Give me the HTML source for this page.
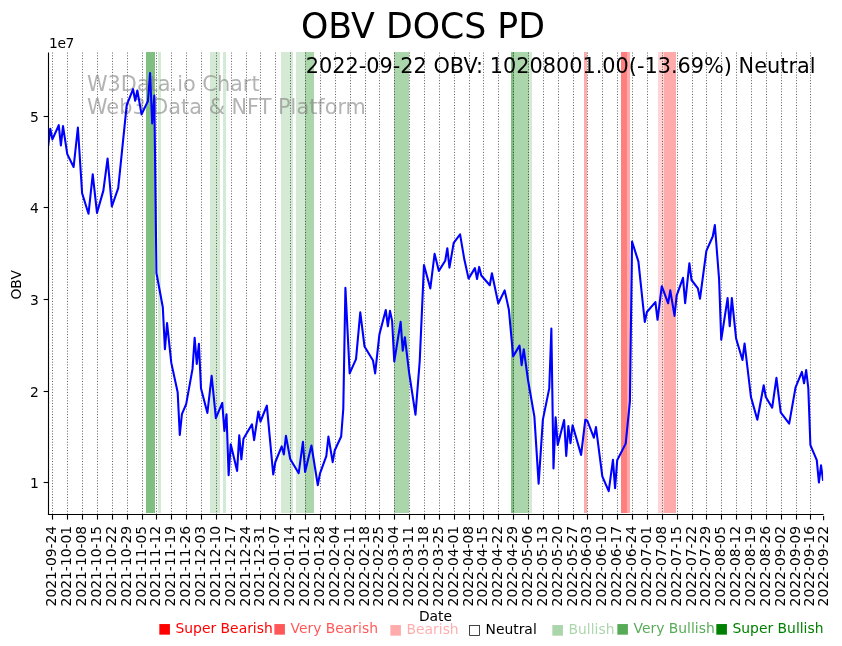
<!DOCTYPE html>
<html><head><meta charset="utf-8"><title>OBV DOCS PD</title>
<style>html,body{margin:0;padding:0;background:#fff}svg{display:block}text{font-family:"DejaVu Sans","Liberation Sans",sans-serif;}</style></head><body>
<svg width="842" height="646" viewBox="0 0 842 646">
<rect width="842" height="646" fill="#fff"/>
<g shape-rendering="crispEdges">
<rect x="146" y="52" width="9" height="461" fill="#008000" fill-opacity="0.5"/>
<rect x="158" y="52" width="3" height="461" fill="#008000" fill-opacity="0.165"/>
<rect x="210" y="52" width="10" height="461" fill="#008000" fill-opacity="0.165"/>
<rect x="223" y="52" width="3" height="461" fill="#008000" fill-opacity="0.165"/>
<rect x="281" y="52" width="12" height="461" fill="#008000" fill-opacity="0.165"/>
<rect x="296" y="52" width="9" height="461" fill="#008000" fill-opacity="0.165"/>
<rect x="305" y="52" width="9" height="461" fill="#008000" fill-opacity="0.33"/>
<rect x="394" y="52" width="15" height="461" fill="#008000" fill-opacity="0.33"/>
<rect x="511" y="52" width="3" height="461" fill="#008000" fill-opacity="0.5"/>
<rect x="514" y="52" width="15" height="461" fill="#008000" fill-opacity="0.33"/>
<rect x="529" y="52" width="3" height="461" fill="#008000" fill-opacity="0.165"/>
<rect x="584" y="52" width="3" height="461" fill="#ff0000" fill-opacity="0.33"/>
<rect x="621" y="52" width="6" height="461" fill="#ff0000" fill-opacity="0.5"/>
<rect x="627" y="52" width="3" height="461" fill="#ff0000" fill-opacity="0.33"/>
<rect x="658" y="52" width="6" height="461" fill="#ff0000" fill-opacity="0.165"/>
<rect x="664" y="52" width="12" height="461" fill="#ff0000" fill-opacity="0.33"/>
</g>
<g stroke="#000" stroke-opacity="0.63" stroke-width="1" stroke-dasharray="1 1.76" fill="none">
<path d="M52.5 514.5V52.5"/>
<path d="M67.5 514.5V52.5"/>
<path d="M82.5 514.5V52.5"/>
<path d="M97.5 514.5V52.5"/>
<path d="M112.5 514.5V52.5"/>
<path d="M127.5 514.5V52.5"/>
<path d="M142.5 514.5V52.5"/>
<path d="M156.5 514.5V52.5"/>
<path d="M171.5 514.5V52.5"/>
<path d="M186.5 514.5V52.5"/>
<path d="M201.5 514.5V52.5"/>
<path d="M216.5 514.5V52.5"/>
<path d="M231.5 514.5V52.5"/>
<path d="M246.5 514.5V52.5"/>
<path d="M260.5 514.5V52.5"/>
<path d="M275.5 514.5V52.5"/>
<path d="M290.5 514.5V52.5"/>
<path d="M305.5 514.5V52.5"/>
<path d="M320.5 514.5V52.5"/>
<path d="M335.5 514.5V52.5"/>
<path d="M350.5 514.5V52.5"/>
<path d="M365.5 514.5V52.5"/>
<path d="M379.5 514.5V52.5"/>
<path d="M394.5 514.5V52.5"/>
<path d="M409.5 514.5V52.5"/>
<path d="M424.5 514.5V52.5"/>
<path d="M439.5 514.5V52.5"/>
<path d="M454.5 514.5V52.5"/>
<path d="M469.5 514.5V52.5"/>
<path d="M483.5 514.5V52.5"/>
<path d="M498.5 514.5V52.5"/>
<path d="M513.5 514.5V52.5"/>
<path d="M528.5 514.5V52.5"/>
<path d="M543.5 514.5V52.5"/>
<path d="M558.5 514.5V52.5"/>
<path d="M573.5 514.5V52.5"/>
<path d="M587.5 514.5V52.5"/>
<path d="M602.5 514.5V52.5"/>
<path d="M617.5 514.5V52.5"/>
<path d="M632.5 514.5V52.5"/>
<path d="M647.5 514.5V52.5"/>
<path d="M662.5 514.5V52.5"/>
<path d="M677.5 514.5V52.5"/>
<path d="M692.5 514.5V52.5"/>
<path d="M706.5 514.5V52.5"/>
<path d="M721.5 514.5V52.5"/>
<path d="M736.5 514.5V52.5"/>
<path d="M751.5 514.5V52.5"/>
<path d="M766.5 514.5V52.5"/>
<path d="M781.5 514.5V52.5"/>
<path d="M796.5 514.5V52.5"/>
<path d="M810.5 514.5V52.5"/>
</g>
<g font-size="20.83" fill="#808080" fill-opacity="0.6"><text x="87" y="91">W3Data.io Chart</text><text x="87" y="114.3">Web3 Data &amp; NFT Platform</text></g>
<clipPath id="ax"><rect x="48.15" y="52.0" width="775.0" height="462.5"/></clipPath>
<path clip-path="url(#ax)" d="M48.15 146.00 L50.27 128.70 L52.40 139.40 L58.77 125.20 L60.89 145.50 L63.01 126.10 L67.26 154.10 L73.63 167.00 L77.88 127.50 L82.12 193.20 L88.49 213.80 L92.74 174.30 L96.99 212.90 L103.36 190.60 L107.60 158.50 L111.85 206.50 L118.22 188.20 L126.71 105.10 L133.08 89.20 L135.20 100.80 L137.33 90.50 L141.57 114.40 L147.94 101.00 L150.07 73.00 L152.19 123.50 L154.31 95.50 L156.44 273.00 L162.81 307.30 L164.93 349.20 L167.05 323.10 L171.30 362.90 L177.67 392.20 L179.79 434.90 L181.92 414.20 L186.16 404.10 L192.53 368.90 L194.66 337.90 L196.78 363.90 L198.90 343.90 L201.03 388.60 L207.40 413.00 L211.64 375.90 L215.89 418.20 L222.26 402.90 L224.38 430.90 L226.51 414.40 L228.63 475.10 L230.75 444.30 L237.12 470.90 L239.25 435.40 L241.37 459.30 L243.49 438.70 L251.99 424.30 L254.11 440.20 L258.36 411.50 L260.48 421.50 L266.85 405.60 L273.22 474.50 L275.34 462.00 L281.71 446.40 L283.84 454.50 L285.96 435.90 L290.21 459.00 L298.70 473.20 L302.94 441.80 L305.07 472.00 L311.44 445.50 L317.81 485.10 L319.93 473.60 L326.30 456.10 L328.42 436.60 L332.67 462.10 L334.79 450.20 L341.16 436.50 L343.29 408.80 L345.41 287.70 L349.66 373.40 L356.03 359.10 L360.27 312.40 L364.52 346.50 L373.01 360.50 L375.14 373.40 L379.38 334.60 L385.75 310.00 L387.88 326.30 L390.00 310.90 L392.12 320.90 L394.25 361.50 L400.62 321.90 L402.74 350.70 L404.86 337.20 L409.11 372.70 L415.48 414.60 L419.73 361.00 L423.97 265.10 L430.34 288.40 L434.59 253.80 L438.84 270.90 L445.21 260.80 L447.33 248.20 L449.45 267.60 L453.70 242.90 L460.07 234.40 L464.31 259.30 L468.56 278.60 L474.93 268.10 L477.05 279.00 L479.18 266.90 L481.30 275.50 L489.79 285.20 L491.92 273.30 L498.29 303.50 L504.66 290.40 L508.90 309.80 L513.15 356.40 L519.52 345.60 L521.64 365.10 L523.77 349.20 L528.01 380.00 L534.38 416.60 L538.63 483.60 L542.88 419.60 L549.25 388.40 L551.37 328.60 L553.49 468.50 L555.62 417.40 L557.74 445.00 L564.11 420.10 L566.23 456.00 L568.36 426.10 L570.48 443.20 L572.60 425.20 L581.10 454.90 L585.34 419.70 L587.47 421.00 L593.84 437.70 L595.96 427.10 L602.33 476.40 L608.70 491.20 L612.95 459.90 L615.07 488.10 L617.19 460.30 L625.68 443.60 L629.93 401.10 L632.05 241.50 L638.42 261.60 L644.79 322.00 L646.92 312.00 L655.41 302.10 L657.53 319.80 L661.78 286.20 L668.15 303.30 L670.27 290.40 L674.52 315.90 L676.64 295.60 L683.01 277.80 L685.14 303.20 L689.38 263.20 L691.51 280.00 L697.88 288.40 L700.00 298.70 L706.37 250.80 L712.74 236.50 L714.86 225.00 L719.11 279.50 L721.23 339.80 L727.60 298.10 L729.73 326.10 L731.85 298.10 L736.10 338.50 L742.47 360.00 L744.59 343.50 L750.96 397.00 L757.33 419.80 L763.70 385.30 L765.82 397.00 L772.19 407.70 L776.44 377.90 L780.69 412.30 L789.18 423.60 L795.55 387.40 L801.92 371.90 L804.04 383.30 L806.16 370.10 L808.29 388.00 L810.41 445.10 L816.78 460.20 L818.90 482.50 L821.03 465.30 L823.15 480.80" fill="none" stroke="#0000ff" stroke-width="2.08" stroke-linejoin="round" stroke-linecap="butt"/>
<g stroke="#000" stroke-width="1.11" fill="none"><path d="M48.5 515.05V52.5"/><path d="M47.95 514.5H823.65"/></g>
<g stroke="#000" stroke-width="1.11" fill="none">
<path d="M52.5 514.5v5.1"/>
<path d="M67.5 514.5v5.1"/>
<path d="M82.5 514.5v5.1"/>
<path d="M97.5 514.5v5.1"/>
<path d="M112.5 514.5v5.1"/>
<path d="M127.5 514.5v5.1"/>
<path d="M142.5 514.5v5.1"/>
<path d="M156.5 514.5v5.1"/>
<path d="M171.5 514.5v5.1"/>
<path d="M186.5 514.5v5.1"/>
<path d="M201.5 514.5v5.1"/>
<path d="M216.5 514.5v5.1"/>
<path d="M231.5 514.5v5.1"/>
<path d="M246.5 514.5v5.1"/>
<path d="M260.5 514.5v5.1"/>
<path d="M275.5 514.5v5.1"/>
<path d="M290.5 514.5v5.1"/>
<path d="M305.5 514.5v5.1"/>
<path d="M320.5 514.5v5.1"/>
<path d="M335.5 514.5v5.1"/>
<path d="M350.5 514.5v5.1"/>
<path d="M365.5 514.5v5.1"/>
<path d="M379.5 514.5v5.1"/>
<path d="M394.5 514.5v5.1"/>
<path d="M409.5 514.5v5.1"/>
<path d="M424.5 514.5v5.1"/>
<path d="M439.5 514.5v5.1"/>
<path d="M454.5 514.5v5.1"/>
<path d="M469.5 514.5v5.1"/>
<path d="M483.5 514.5v5.1"/>
<path d="M498.5 514.5v5.1"/>
<path d="M513.5 514.5v5.1"/>
<path d="M528.5 514.5v5.1"/>
<path d="M543.5 514.5v5.1"/>
<path d="M558.5 514.5v5.1"/>
<path d="M573.5 514.5v5.1"/>
<path d="M587.5 514.5v5.1"/>
<path d="M602.5 514.5v5.1"/>
<path d="M617.5 514.5v5.1"/>
<path d="M632.5 514.5v5.1"/>
<path d="M647.5 514.5v5.1"/>
<path d="M662.5 514.5v5.1"/>
<path d="M677.5 514.5v5.1"/>
<path d="M692.5 514.5v5.1"/>
<path d="M706.5 514.5v5.1"/>
<path d="M721.5 514.5v5.1"/>
<path d="M736.5 514.5v5.1"/>
<path d="M751.5 514.5v5.1"/>
<path d="M766.5 514.5v5.1"/>
<path d="M781.5 514.5v5.1"/>
<path d="M796.5 514.5v5.1"/>
<path d="M810.5 514.5v5.1"/>
<path d="M823.6 516.1V520.2"/>
<path d="M48.5 116.5h-4.86"/>
<path d="M48.5 207.5h-4.86"/>
<path d="M48.5 299.5h-4.86"/>
<path d="M48.5 391.5h-4.86"/>
<path d="M48.5 482.5h-4.86"/>
</g>
<g font-size="13.89" fill="#000">
<text x="38.8" y="121.8" text-anchor="end">5</text>
<text x="38.8" y="212.8" text-anchor="end">4</text>
<text x="38.8" y="304.8" text-anchor="end">3</text>
<text x="38.8" y="396.8" text-anchor="end">2</text>
<text x="38.8" y="487.8" text-anchor="end">1</text>
<text transform="translate(55.8 525.8) rotate(-90)" text-anchor="end">2021-09-24</text>
<text transform="translate(70.8 525.8) rotate(-90)" text-anchor="end">2021-10-01</text>
<text transform="translate(85.8 525.8) rotate(-90)" text-anchor="end">2021-10-08</text>
<text transform="translate(100.8 525.8) rotate(-90)" text-anchor="end">2021-10-15</text>
<text transform="translate(115.8 525.8) rotate(-90)" text-anchor="end">2021-10-22</text>
<text transform="translate(130.8 525.8) rotate(-90)" text-anchor="end">2021-10-29</text>
<text transform="translate(145.8 525.8) rotate(-90)" text-anchor="end">2021-11-05</text>
<text transform="translate(159.8 525.8) rotate(-90)" text-anchor="end">2021-11-12</text>
<text transform="translate(174.8 525.8) rotate(-90)" text-anchor="end">2021-11-19</text>
<text transform="translate(189.8 525.8) rotate(-90)" text-anchor="end">2021-11-26</text>
<text transform="translate(204.8 525.8) rotate(-90)" text-anchor="end">2021-12-03</text>
<text transform="translate(219.8 525.8) rotate(-90)" text-anchor="end">2021-12-10</text>
<text transform="translate(234.8 525.8) rotate(-90)" text-anchor="end">2021-12-17</text>
<text transform="translate(249.8 525.8) rotate(-90)" text-anchor="end">2021-12-24</text>
<text transform="translate(263.8 525.8) rotate(-90)" text-anchor="end">2021-12-31</text>
<text transform="translate(278.8 525.8) rotate(-90)" text-anchor="end">2022-01-07</text>
<text transform="translate(293.8 525.8) rotate(-90)" text-anchor="end">2022-01-14</text>
<text transform="translate(308.8 525.8) rotate(-90)" text-anchor="end">2022-01-21</text>
<text transform="translate(323.8 525.8) rotate(-90)" text-anchor="end">2022-01-28</text>
<text transform="translate(338.8 525.8) rotate(-90)" text-anchor="end">2022-02-04</text>
<text transform="translate(353.8 525.8) rotate(-90)" text-anchor="end">2022-02-11</text>
<text transform="translate(368.8 525.8) rotate(-90)" text-anchor="end">2022-02-18</text>
<text transform="translate(382.8 525.8) rotate(-90)" text-anchor="end">2022-02-25</text>
<text transform="translate(397.8 525.8) rotate(-90)" text-anchor="end">2022-03-04</text>
<text transform="translate(412.8 525.8) rotate(-90)" text-anchor="end">2022-03-11</text>
<text transform="translate(427.8 525.8) rotate(-90)" text-anchor="end">2022-03-18</text>
<text transform="translate(442.8 525.8) rotate(-90)" text-anchor="end">2022-03-25</text>
<text transform="translate(457.8 525.8) rotate(-90)" text-anchor="end">2022-04-01</text>
<text transform="translate(472.8 525.8) rotate(-90)" text-anchor="end">2022-04-08</text>
<text transform="translate(486.8 525.8) rotate(-90)" text-anchor="end">2022-04-15</text>
<text transform="translate(501.8 525.8) rotate(-90)" text-anchor="end">2022-04-22</text>
<text transform="translate(516.8 525.8) rotate(-90)" text-anchor="end">2022-04-29</text>
<text transform="translate(531.8 525.8) rotate(-90)" text-anchor="end">2022-05-06</text>
<text transform="translate(546.8 525.8) rotate(-90)" text-anchor="end">2022-05-13</text>
<text transform="translate(561.8 525.8) rotate(-90)" text-anchor="end">2022-05-20</text>
<text transform="translate(576.8 525.8) rotate(-90)" text-anchor="end">2022-05-27</text>
<text transform="translate(590.8 525.8) rotate(-90)" text-anchor="end">2022-06-03</text>
<text transform="translate(605.8 525.8) rotate(-90)" text-anchor="end">2022-06-10</text>
<text transform="translate(620.8 525.8) rotate(-90)" text-anchor="end">2022-06-17</text>
<text transform="translate(635.8 525.8) rotate(-90)" text-anchor="end">2022-06-24</text>
<text transform="translate(650.8 525.8) rotate(-90)" text-anchor="end">2022-07-01</text>
<text transform="translate(665.8 525.8) rotate(-90)" text-anchor="end">2022-07-08</text>
<text transform="translate(680.8 525.8) rotate(-90)" text-anchor="end">2022-07-15</text>
<text transform="translate(695.8 525.8) rotate(-90)" text-anchor="end">2022-07-22</text>
<text transform="translate(709.8 525.8) rotate(-90)" text-anchor="end">2022-07-29</text>
<text transform="translate(724.8 525.8) rotate(-90)" text-anchor="end">2022-08-05</text>
<text transform="translate(739.8 525.8) rotate(-90)" text-anchor="end">2022-08-12</text>
<text transform="translate(754.8 525.8) rotate(-90)" text-anchor="end">2022-08-19</text>
<text transform="translate(769.8 525.8) rotate(-90)" text-anchor="end">2022-08-26</text>
<text transform="translate(784.8 525.8) rotate(-90)" text-anchor="end">2022-09-02</text>
<text transform="translate(799.8 525.8) rotate(-90)" text-anchor="end">2022-09-09</text>
<text transform="translate(813.8 525.8) rotate(-90)" text-anchor="end">2022-09-16</text>
<text transform="translate(827.8 525.8) rotate(-90)" text-anchor="end">2022-09-22</text>
<text x="435.5" y="621.2" text-anchor="middle">Date</text>
<text transform="translate(20.5 284.8) rotate(-90)" text-anchor="middle">OBV</text>
<text x="49" y="47.9" letter-spacing="-0.4">1e7</text>
</g>
<text x="423" y="38.2" font-size="34.72" text-anchor="middle" fill="#000">OBV DOCS PD</text>
<text x="815.5" y="72.6" font-size="20.83" text-anchor="end" fill="#000">2022-09-22 OBV: 10208001.00(-13.69%) Neutral</text>
<g font-size="13.89">
<text x="158" y="633" fill="#ff0000" fill-opacity="1" xml:space="preserve">■ Super Bearish</text>
<text x="273" y="633" fill="#ff0000" fill-opacity="0.66" xml:space="preserve">■ Very Bearish</text>
<text x="389" y="634" fill="#ff0000" fill-opacity="0.33" xml:space="preserve">■ Bearish</text>
<text x="468" y="634" fill="#000000" fill-opacity="1" xml:space="preserve">□ Neutral</text>
<text x="551" y="634" fill="#008000" fill-opacity="0.33" xml:space="preserve">■ Bullish</text>
<text x="616" y="633" fill="#008000" fill-opacity="0.66" xml:space="preserve">■ Very Bullish</text>
<text x="715" y="633" fill="#008000" fill-opacity="1" xml:space="preserve">■ Super Bullish</text>
</g>
</svg></body></html>
